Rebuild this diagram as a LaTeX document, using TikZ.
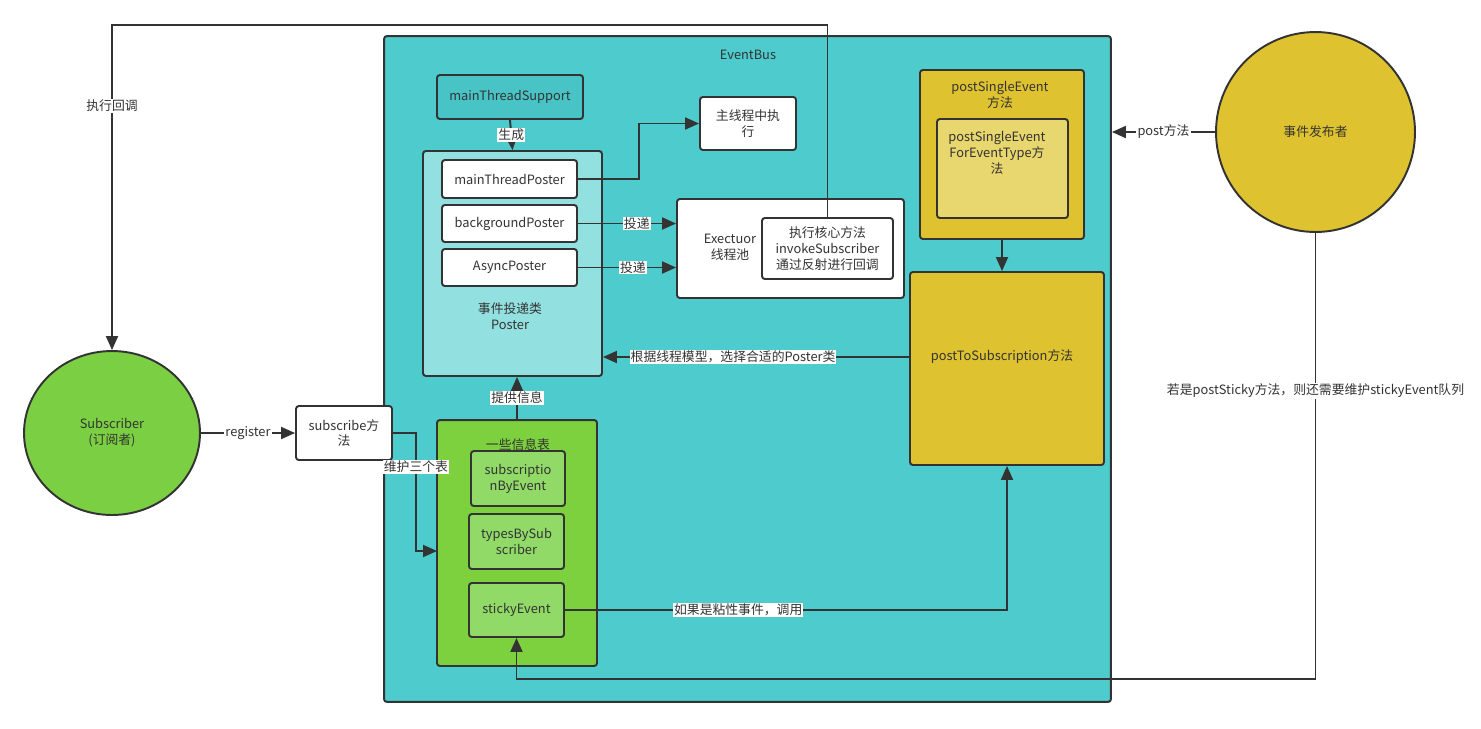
\documentclass[tikz,border=0pt]{standalone}
\usepackage{fontspec}
\setmainfont{Noto Sans CJK SC}
\usepackage{tikz}
\usetikzlibrary{arrows.meta,shapes.geometric}

\definecolor{linegray}{RGB}{51,51,51}
\definecolor{busfill}{RGB}{78,203,205}
\definecolor{mtsfill}{RGB}{72,196,198}
\definecolor{posterfill}{RGB}{147,224,225}
\definecolor{yellowfill}{RGB}{223,194,48}
\definecolor{lightyellow}{RGB}{232,214,110}
\definecolor{subgreen}{RGB}{123,207,66}
\definecolor{infogreen}{RGB}{125,209,63}
\definecolor{tablegreen}{RGB}{145,218,104}

\tikzset{
  box/.style={draw=linegray, line width=1.1pt, rounded corners=1.6pt, align=center, inner sep=1pt},
  arr/.style={draw=linegray, line width=1.1pt, -{Triangle[length=2.8mm,width=2.4mm]}},
  plain/.style={draw=linegray, line width=1.1pt},
  lbl/.style={fill=white, inner sep=0.6pt},
}

\begin{document}
\begin{tikzpicture}[x=0.02cm, y=-0.02cm, font=\fontsize{7.3}{9}\selectfont, text=linegray]
      \useasboundingbox (0,0) rectangle (1481,728);

      \node[box, fill=busfill, minimum width=14.54cm, minimum height=13.32cm] (bus) at (747.5,369) {};
      \node (bustxt) at (748,55) {EventBus};

      \node[box, fill=mtsfill, minimum width=2.92cm, minimum height=0.88cm] (mts) at (510,97) {mainThreadSupport};
      \node[box, fill=posterfill, minimum width=3.58cm, minimum height=4.5cm] (poster) at (512.5,263.5) {};
      \node[align=center] (postertxt) at (510,316) {事件投递类\\Poster};
      \node[box, fill=white, minimum width=2.7cm, minimum height=0.76cm] (mtp) at (509.5,179) {mainThreadPoster};
      \node[box, fill=white, minimum width=2.7cm, minimum height=0.74cm] (bgp) at (509.5,223.5) {backgroundPoster};
      \node[box, fill=white, minimum width=2.7cm, minimum height=0.74cm] (asp) at (509.5,267.5) {AsyncPoster};

      \node[box, fill=white, minimum width=1.92cm, minimum height=1.06cm] (mexec) at (748,123.5) {主线程中执\\行};
      \node[box, fill=white, minimum width=4.54cm, minimum height=1.98cm] (exec) at (790.5,248.5) {};
      \node[align=center] (exectxt) at (730,247) {Exectuor\\线程池};
      \node[box, fill=white, minimum width=2.62cm, minimum height=1.22cm] (core) at (827.5,248.5) {执行核心方法\\invokeSubscriber\\通过反射进行回调};

      \node[box, fill=yellowfill, minimum width=3.28cm, minimum height=3.38cm] (pse) at (1002,154.5) {};
      \node[align=center] (psetxt) at (1000,95) {postSingleEvent\\方法};
      \node[box, fill=lightyellow, minimum width=2.62cm, minimum height=1.98cm] (psefet) at (1002.5,168.5) {};
      \node[align=center] (psefettxt) at (997,153) {postSingleEvent\\ForEventType方\\法};
      \node[box, fill=yellowfill, minimum width=3.88cm, minimum height=3.86cm] (pts) at (1007,368.5) {};
      \node (ptstxt) at (1002,357) {postToSubscription方法};

      \node[draw=linegray, line width=1.1pt, ellipse, fill=yellowfill, minimum width=3.98cm, minimum height=4cm] (pub) at (1315.5,132) {事件发布者};
      \node[draw=linegray, line width=1.1pt, ellipse, fill=subgreen, align=center, minimum width=3.52cm, minimum height=3.28cm] (sub) at (112,433) {Subscriber\\(订阅者)};
      \node[box, fill=white, minimum width=1.92cm, minimum height=1.08cm] (subm) at (344,433) {subscribe方\\法};

      \node[box, fill=infogreen, minimum width=3.2cm, minimum height=4.92cm] (info) at (517,543) {};
      \node (infotxt) at (518,445) {一些信息表};
      \node[box, fill=tablegreen, minimum width=1.88cm, minimum height=1.1cm] (sbe) at (518,478.5) {subscriptio\\nByEvent};
      \node[box, fill=tablegreen, minimum width=1.9cm, minimum height=1.1cm] (tbs) at (516.5,541.5) {typesBySub\\scriber};
      \node[box, fill=tablegreen, minimum width=1.9cm, minimum height=1.08cm] (sticky) at (516.5,610) {stickyEvent};

      \coordinate (cbtop) at (470,25);
      \coordinate (stbot) at (900,679);
      \coordinate (infoin) at (437,551);

      \draw[arr] (core.north) |- (cbtop) -| node[lbl, pos=0.624] {执行回调} (sub.north);
      \draw[arr] (mts.south) -- node[lbl] {生成} (poster.north);
      \draw[arr] (mtp.east) -- ++(61,0) |- (mexec.west);
      \draw[arr] (bgp.east) -- node[lbl, pos=0.6] {投递} (bgp.east -| exec.west);
      \draw[arr] (asp.east) -- node[lbl, pos=0.56] {投递} (asp.east -| exec.west);
      \draw[arr] (pse.south) -- (pse.south |- pts.north);
      \draw[arr] (pts.west |- ptstxt) -- node[lbl, pos=0.575] {根据线程模型，选择合适的Poster类} (poster.east |- ptstxt);
      \draw[arr] (pub.west) -- node[lbl] {post方法} (pub.west -| bus.east);
      \draw[arr] (pub.south) |- node[lbl, pos=0.177] {若是postSticky方法，则还需要维护stickyEvent队列} (stbot) -| (sticky.south);
      \draw[arr] (sub.east) -- node[lbl] {register} (subm.west);
      \draw[arr] (subm.east) -- ++(23,0) |- node[lbl, pos=0.144] {维护三个表} (infoin);
      \draw[arr] (info.north) -- node[lbl] {提供信息} (info.north |- poster.south);
      \draw[arr] (sticky.east) -| node[lbl, pos=0.196] {如果是粘性事件，调用} (pts.south);
    \end{tikzpicture}
\end{document}
